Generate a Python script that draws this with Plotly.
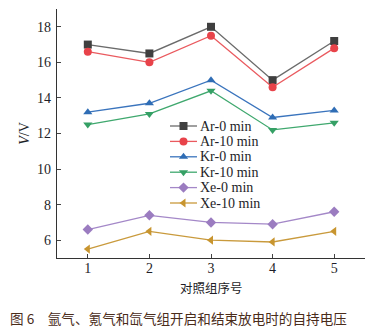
import plotly.graph_objects as go

groups = [1, 2, 3, 4, 5]
ar_0 = [17.0, 16.5, 18.0, 15.0, 17.2]
ar_10 = [16.6, 16.0, 17.5, 14.6, 16.8]
kr_0 = [13.2, 13.7, 15.0, 12.9, 13.3]
kr_10 = [12.5, 13.1, 14.4, 12.2, 12.6]
xe_0 = [6.6, 7.4, 7.0, 6.9, 7.6]
xe_10 = [5.5, 6.5, 6.0, 5.9, 6.5]
names = ["Ar-0 min", "Ar-10 min", "Kr-0 min", "Kr-10 min", "Xe-0 min", "Xe-10 min"]
series = [ar_0, ar_10, kr_0, kr_10, xe_0, xe_10]
line_colors = ["#6b6b6b", "#ea5a5f", "#3a74bd", "#3fa86e", "#a488c8", "#c99a3c"]
marker_colors = ["#3f3f3f", "#e8434a", "#2f6db5", "#35a065", "#9b7cc0", "#c8952f"]
symbols = ["square", "circle", "triangle-up", "triangle-down", "diamond", "triangle-left"]

# layout in pixels
L, R, T, B = 57, 365, 9, 258
leg_x0, leg_x1, leg_y0, leg_dy = 170, 197, 126, 15.4

fig = go.Figure()
for n, s, lc, mc, sym in zip(names, series, line_colors, marker_colors, symbols):
    fig.add_trace(go.Scatter(x=groups, y=s, name=n, mode="lines+markers",
                             line=dict(color=lc, width=1.3),
                             marker=dict(symbol=sym, color=mc, size=8),
                             showlegend=False))

# manual legend on a pixel-based overlay axis
annotations = []
for i, (n, lc, mc, sym) in enumerate(zip(names, line_colors, marker_colors, symbols)):
    yy = leg_y0 + i * leg_dy
    fig.add_trace(go.Scatter(x=[leg_x0, leg_x1], y=[yy, yy], mode="lines",
                             line=dict(color=lc, width=1.3), xaxis="x2", yaxis="y2",
                             showlegend=False, hoverinfo="skip"))
    fig.add_trace(go.Scatter(x=[(leg_x0 + leg_x1) / 2], y=[yy], mode="markers",
                             marker=dict(symbol=sym, color=mc, size=8), xaxis="x2", yaxis="y2",
                             showlegend=False, hoverinfo="skip"))
    annotations.append(dict(text=n, x=leg_x1 + 1, y=yy, xref="x2", yref="y2",
                            xanchor="left", yanchor="middle", showarrow=False,
                            font=dict(family="Liberation Serif", size=14, color="#1e1e28")))

annotations.append(dict(text="对照组序号", xref="paper", yref="paper", x=0.5,
                        y=-(287 - B) / (B - T), xanchor="center", yanchor="middle",
                        showarrow=False,
                        font=dict(family="Noto Sans CJK SC", size=12.5, color="#1e1e28")))
annotations.append(dict(text="图 6　氩气、氪气和氙气组开启和结束放电时的自持电压",
                        xref="paper", yref="paper", x=(8 - L) / (R - L),
                        y=-(318 - B) / (B - T), xanchor="left", yanchor="middle",
                        showarrow=False,
                        font=dict(family="Noto Sans CJK SC", size=13.6, color="#4a2c1a")))

tickfont = dict(family="Liberation Serif", size=14, color="#1e1e28")
fig.update_layout(
    width=387, height=331,
    margin=dict(l=L, r=387 - R, t=T, b=331 - B),
    plot_bgcolor="white", paper_bgcolor="white",
    showlegend=False,
    xaxis=dict(range=[0.5, 5.5], tickvals=groups, ticks="inside", ticklen=4,
               showline=True, linecolor="#333", linewidth=1.2, showgrid=False,
               zeroline=False, tickfont=tickfont, ticklabelstandoff=-3),
    yaxis=dict(range=[5, 19], tickvals=[6, 8, 10, 12, 14, 16, 18], ticks="inside", ticklen=4,
               showline=True, linecolor="#333", linewidth=1.2, showgrid=False,
               zeroline=False, tickfont=tickfont, ticklabelstandoff=2,
               title=dict(text="<i>V</i>/V", font=dict(family="Liberation Serif", size=14, color="#1e1e28"), standoff=4)),
    xaxis2=dict(overlaying="x", range=[L, R], visible=False, fixedrange=True),
    yaxis2=dict(overlaying="y", range=[B, T], visible=False, fixedrange=True),
    annotations=annotations,
)
fig.write_html("out.html")
